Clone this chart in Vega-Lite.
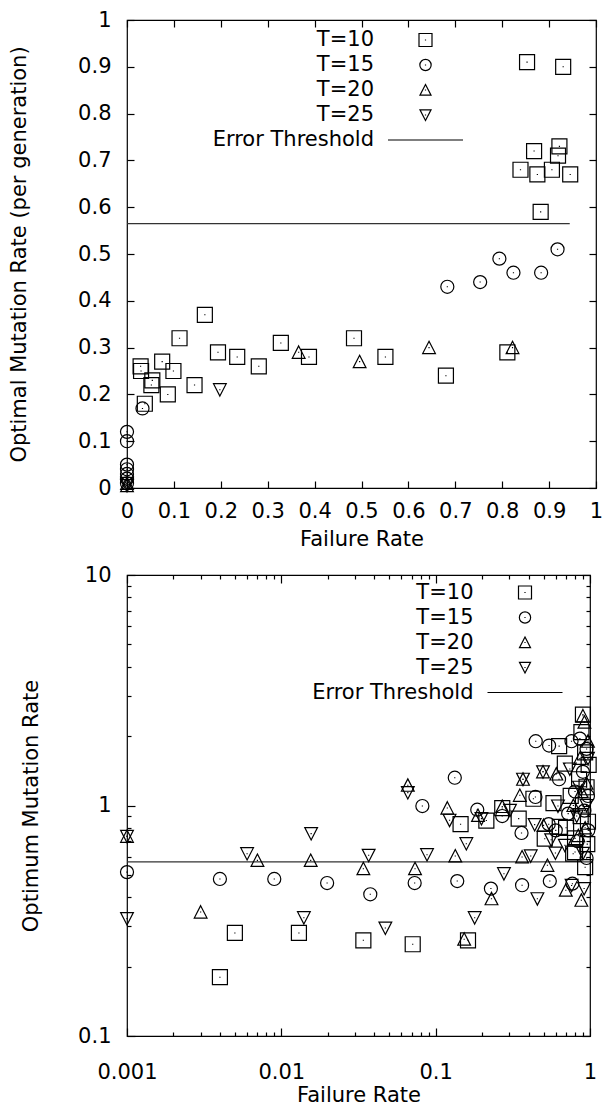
{
  "$schema": "https://vega.github.io/schema/vega-lite/v6.json",
  "background": "white",
  "padding": {"left": 8, "top": 8, "right": 10, "bottom": 0},
  "bounds": "flush",
  "spacing": 87,
  "config": {
    "view": {"stroke": "black", "strokeWidth": 1.2},
    "font": "DejaVu Sans",
    "axis": {
      "domain": false, "grid": false,
      "labelFont": "DejaVu Sans", "labelFontSize": 21, "labelColor": "black",
      "titleFont": "DejaVu Sans", "titleFontSize": 21, "titleFontWeight": "normal", "titleColor": "black",
      "tickColor": "black", "tickWidth": 1.2, "labelFlush": false, "labelOverlap": false
    },
    "legend": {
      "orient": "none", "title": null, "padding": 0,
      "labelFont": "DejaVu Sans", "labelFontSize": 21, "labelColor": "black", "labelLimit": 0,
      "labelAlign": "right", "labelOffset": -62,
      "symbolSize": 169, "symbolStrokeWidth": 1.2, "symbolStrokeColor": "black", "symbolFillColor": "transparent",
      "rowPadding": 3
    }
  },
  "resolve": {"scale": {"shape": "independent"}, "legend": {"shape": "independent"}},
  "datasets": {
    "top": [
      {"series": "T=10", "x": 0.853, "y": 0.91}, {"series": "T=10", "x": 0.93, "y": 0.90},
      {"series": "T=10", "x": 0.868, "y": 0.72}, {"series": "T=10", "x": 0.922, "y": 0.73},
      {"series": "T=10", "x": 0.919, "y": 0.71}, {"series": "T=10", "x": 0.839, "y": 0.68},
      {"series": "T=10", "x": 0.875, "y": 0.67}, {"series": "T=10", "x": 0.906, "y": 0.68},
      {"series": "T=10", "x": 0.945, "y": 0.67}, {"series": "T=10", "x": 0.882, "y": 0.59},
      {"series": "T=10", "x": 0.166, "y": 0.37}, {"series": "T=10", "x": 0.112, "y": 0.32},
      {"series": "T=10", "x": 0.328, "y": 0.31}, {"series": "T=10", "x": 0.484, "y": 0.32},
      {"series": "T=10", "x": 0.388, "y": 0.28}, {"series": "T=10", "x": 0.551, "y": 0.28},
      {"series": "T=10", "x": 0.680, "y": 0.24}, {"series": "T=10", "x": 0.811, "y": 0.29},
      {"series": "T=10", "x": 0.194, "y": 0.29}, {"series": "T=10", "x": 0.235, "y": 0.28},
      {"series": "T=10", "x": 0.281, "y": 0.26}, {"series": "T=10", "x": 0.144, "y": 0.22},
      {"series": "T=10", "x": 0.087, "y": 0.20}, {"series": "T=10", "x": 0.075, "y": 0.27},
      {"series": "T=10", "x": 0.099, "y": 0.25}, {"series": "T=10", "x": 0.029, "y": 0.26},
      {"series": "T=10", "x": 0.030, "y": 0.25}, {"series": "T=10", "x": 0.054, "y": 0.23},
      {"series": "T=10", "x": 0.052, "y": 0.22}, {"series": "T=10", "x": 0.038, "y": 0.18},
      {"series": "T=15", "x": 0.683, "y": 0.43}, {"series": "T=15", "x": 0.753, "y": 0.44},
      {"series": "T=15", "x": 0.794, "y": 0.49}, {"series": "T=15", "x": 0.824, "y": 0.46},
      {"series": "T=15", "x": 0.883, "y": 0.46}, {"series": "T=15", "x": 0.918, "y": 0.51},
      {"series": "T=15", "x": 0.033, "y": 0.17}, {"series": "T=15", "x": 0, "y": 0.12},
      {"series": "T=15", "x": 0, "y": 0.10}, {"series": "T=15", "x": 0, "y": 0.05},
      {"series": "T=15", "x": 0, "y": 0.04}, {"series": "T=15", "x": 0, "y": 0.03},
      {"series": "T=15", "x": 0, "y": 0.02}, {"series": "T=15", "x": 0, "y": 0.01},
      {"series": "T=20", "x": 0.366, "y": 0.29}, {"series": "T=20", "x": 0.496, "y": 0.27},
      {"series": "T=20", "x": 0.644, "y": 0.30}, {"series": "T=20", "x": 0.822, "y": 0.30},
      {"series": "T=20", "x": 0, "y": 0.01}, {"series": "T=20", "x": 0, "y": 0.005},
      {"series": "T=25", "x": 0.198, "y": 0.21}, {"series": "T=25", "x": 0, "y": 0.01},
      {"series": "T=25", "x": 0, "y": 0.005}
    ],
    "bottom": [
      {"series": "T=10", "x": 0.004, "y": 0.18}, {"series": "T=10", "x": 0.005, "y": 0.28},
      {"series": "T=10", "x": 0.013, "y": 0.28}, {"series": "T=10", "x": 0.034, "y": 0.26},
      {"series": "T=10", "x": 0.071, "y": 0.25}, {"series": "T=10", "x": 0.162, "y": 0.26},
      {"series": "T=10", "x": 0.145, "y": 0.83}, {"series": "T=10", "x": 0.213, "y": 0.86},
      {"series": "T=10", "x": 0.27, "y": 0.975}, {"series": "T=10", "x": 0.345, "y": 0.877},
      {"series": "T=10", "x": 0.43, "y": 1.07}, {"series": "T=10", "x": 0.631, "y": 1.81},
      {"series": "T=10", "x": 0.58, "y": 1.025}, {"series": "T=10", "x": 0.509, "y": 0.718},
      {"series": "T=10", "x": 0.637, "y": 0.807}, {"series": "T=10", "x": 0.70, "y": 0.80},
      {"series": "T=10", "x": 0.80, "y": 0.628}, {"series": "T=10", "x": 0.80, "y": 0.72},
      {"series": "T=10", "x": 0.93, "y": 0.54}, {"series": "T=10", "x": 0.778, "y": 0.618},
      {"series": "T=10", "x": 0.687, "y": 1.52}, {"series": "T=10", "x": 0.90, "y": 2.48},
      {"series": "T=10", "x": 0.88, "y": 2.08}, {"series": "T=10", "x": 0.93, "y": 1.7},
      {"series": "T=10", "x": 0.85, "y": 1.3}, {"series": "T=10", "x": 0.95, "y": 1.2},
      {"series": "T=10", "x": 0.9, "y": 1.0}, {"series": "T=10", "x": 0.97, "y": 0.85},
      {"series": "T=10", "x": 0.75, "y": 1.1}, {"series": "T=10", "x": 0.98, "y": 1.5},
      {"series": "T=10", "x": 0.87, "y": 0.9}, {"series": "T=10", "x": 0.96, "y": 0.68},
      {"series": "T=15", "x": 0.001, "y": 0.514}, {"series": "T=15", "x": 0.004, "y": 0.48},
      {"series": "T=15", "x": 0.009, "y": 0.48}, {"series": "T=15", "x": 0.0198, "y": 0.461},
      {"series": "T=15", "x": 0.0377, "y": 0.412}, {"series": "T=15", "x": 0.0731, "y": 0.461},
      {"series": "T=15", "x": 0.138, "y": 0.47}, {"series": "T=15", "x": 0.228, "y": 0.436},
      {"series": "T=15", "x": 0.363, "y": 0.451}, {"series": "T=15", "x": 0.549, "y": 0.47},
      {"series": "T=15", "x": 0.769, "y": 0.458}, {"series": "T=15", "x": 0.95, "y": 0.592},
      {"series": "T=15", "x": 0.082, "y": 0.995}, {"series": "T=15", "x": 0.133, "y": 1.32},
      {"series": "T=15", "x": 0.186, "y": 0.959}, {"series": "T=15", "x": 0.27, "y": 0.90},
      {"series": "T=15", "x": 0.36, "y": 0.76}, {"series": "T=15", "x": 0.443, "y": 1.089},
      {"series": "T=15", "x": 0.445, "y": 1.9}, {"series": "T=15", "x": 0.543, "y": 1.82},
      {"series": "T=15", "x": 0.759, "y": 1.90}, {"series": "T=15", "x": 0.86, "y": 1.95},
      {"series": "T=15", "x": 0.95, "y": 1.76}, {"series": "T=15", "x": 0.63, "y": 1.30},
      {"series": "T=15", "x": 0.54, "y": 0.83}, {"series": "T=15", "x": 0.722, "y": 0.922},
      {"series": "T=15", "x": 0.83, "y": 0.70}, {"series": "T=15", "x": 0.975, "y": 0.78},
      {"series": "T=15", "x": 0.6, "y": 0.78}, {"series": "T=15", "x": 0.9, "y": 1.4},
      {"series": "T=15", "x": 0.97, "y": 1.1}, {"series": "T=15", "x": 0.8, "y": 1.15},
      {"series": "T=15", "x": 0.92, "y": 0.95},
      {"series": "T=20", "x": 0.001, "y": 0.735}, {"series": "T=20", "x": 0.003, "y": 0.345},
      {"series": "T=20", "x": 0.007, "y": 0.578}, {"series": "T=20", "x": 0.0155, "y": 0.578},
      {"series": "T=20", "x": 0.034, "y": 0.532}, {"series": "T=20", "x": 0.0735, "y": 0.532},
      {"series": "T=20", "x": 0.134, "y": 0.604}, {"series": "T=20", "x": 0.363, "y": 0.598},
      {"series": "T=20", "x": 0.153, "y": 0.263}, {"series": "T=20", "x": 0.23, "y": 0.394},
      {"series": "T=20", "x": 0.53, "y": 0.55}, {"series": "T=20", "x": 0.697, "y": 0.429},
      {"series": "T=20", "x": 0.879, "y": 0.388}, {"series": "T=20", "x": 0.066, "y": 1.224},
      {"series": "T=20", "x": 0.119, "y": 0.975}, {"series": "T=20", "x": 0.188, "y": 0.906},
      {"series": "T=20", "x": 0.27, "y": 0.99}, {"series": "T=20", "x": 0.351, "y": 1.107},
      {"series": "T=20", "x": 0.368, "y": 1.30}, {"series": "T=20", "x": 0.496, "y": 1.40},
      {"series": "T=20", "x": 0.605, "y": 1.37}, {"series": "T=20", "x": 0.50, "y": 0.82},
      {"series": "T=20", "x": 0.84, "y": 0.74}, {"series": "T=20", "x": 0.90, "y": 2.45},
      {"series": "T=20", "x": 0.92, "y": 2.30}, {"series": "T=20", "x": 0.86, "y": 1.6},
      {"series": "T=20", "x": 0.95, "y": 1.25}, {"series": "T=20", "x": 0.78, "y": 1.0},
      {"series": "T=20", "x": 0.93, "y": 0.8}, {"series": "T=20", "x": 0.97, "y": 1.9},
      {"series": "T=20", "x": 0.88, "y": 1.15},
      {"series": "T=25", "x": 0.001, "y": 0.735}, {"series": "T=25", "x": 0.001, "y": 0.323},
      {"series": "T=25", "x": 0.006, "y": 0.618}, {"series": "T=25", "x": 0.014, "y": 0.326},
      {"series": "T=25", "x": 0.0156, "y": 0.755}, {"series": "T=25", "x": 0.0368, "y": 0.608},
      {"series": "T=25", "x": 0.0472, "y": 0.294}, {"series": "T=25", "x": 0.0879, "y": 0.612},
      {"series": "T=25", "x": 0.179, "y": 0.326}, {"series": "T=25", "x": 0.158, "y": 0.683},
      {"series": "T=25", "x": 0.277, "y": 0.506}, {"series": "T=25", "x": 0.413, "y": 0.604},
      {"series": "T=25", "x": 0.597, "y": 0.622}, {"series": "T=25", "x": 0.456, "y": 0.394},
      {"series": "T=25", "x": 0.76, "y": 0.45}, {"series": "T=25", "x": 0.916, "y": 0.436},
      {"series": "T=25", "x": 0.066, "y": 1.137}, {"series": "T=25", "x": 0.123, "y": 0.863},
      {"series": "T=25", "x": 0.198, "y": 0.877}, {"series": "T=25", "x": 0.303, "y": 0.953},
      {"series": "T=25", "x": 0.368, "y": 1.30}, {"series": "T=25", "x": 0.496, "y": 1.40},
      {"series": "T=25", "x": 0.62, "y": 0.995}, {"series": "T=25", "x": 0.438, "y": 0.826},
      {"series": "T=25", "x": 0.56, "y": 0.71}, {"series": "T=25", "x": 0.74, "y": 1.44},
      {"series": "T=25", "x": 0.687, "y": 0.672}, {"series": "T=25", "x": 0.85, "y": 1.2},
      {"series": "T=25", "x": 0.95, "y": 1.0}, {"series": "T=25", "x": 0.9, "y": 0.62},
      {"series": "T=25", "x": 0.97, "y": 1.6}, {"series": "T=25", "x": 0.82, "y": 0.9}
    ],
    "thrTop": [{"x0": 0, "x1": 0.944, "thr": 0.565}],
    "thrBottom": [{"thr": 0.569}]
  },
  "vconcat": [
    {
      "width": 469, "height": 468,
      "resolve": {"axis": {"x": "independent", "y": "independent"}},
      "layer": [
        {
          "data": {"name": "thrTop"},
          "mark": {"type": "rule", "color": "#333333", "strokeWidth": 1.3},
          "encoding": {
            "x": {"field": "x0", "type": "quantitative", "scale": {"domain": [0, 1], "nice": false, "zero": false}, "axis": null},
            "x2": {"field": "x1"},
            "y": {"field": "thr", "type": "quantitative", "scale": {"domain": [0, 1], "nice": false, "zero": false}, "axis": null}
          }
        },
        {
          "data": {"name": "top"},
          "mark": {"type": "point", "filled": false, "color": "black", "strokeWidth": 1.2, "size": 225, "opacity": 1},
          "encoding": {
            "x": {"field": "x", "type": "quantitative", "scale": {"domain": [0, 1], "nice": false, "zero": false},
              "axis": {"orient": "bottom", "values": [0, 0.1, 0.2, 0.3, 0.4, 0.5, 0.6, 0.7, 0.8, 0.9, 1], "format": ".1~f", "tickSize": -7, "labelPadding": 19, "title": "Failure Rate", "titlePadding": 7}},
            "y": {"field": "y", "type": "quantitative", "scale": {"domain": [0, 1], "nice": false, "zero": false},
              "axis": {"orient": "left", "values": [0, 0.1, 0.2, 0.3, 0.4, 0.5, 0.6, 0.7, 0.8, 0.9, 1], "format": ".1~f", "tickSize": -7, "labelPadding": 23, "title": "Optimal Mutation Rate (per generation)", "titlePadding": 48}},
            "shape": {"field": "series", "type": "nominal",
              "scale": {"domain": ["T=10", "T=15", "T=20", "T=25", "Error Threshold"],
                "range": ["M-1,-1H1V1H-1Z M0,-0.07V0.07", "M0.87,0A0.87,0.87,0,1,1,-0.87,0A0.87,0.87,0,1,1,0.87,0Z M0,-0.07V0.07", "M0,-0.85L0.85,0.8H-0.85Z M0,-0.07V0.07", "M0,0.85L0.85,-0.8H-0.85Z M0,-0.07V0.07", "M-5.77,0H5.77"]},
              "legend": {"orient": "none", "legendX": 288, "legendY": 9.5}}
          }
        },
        {
          "data": {"name": "top"},
          "mark": {"type": "point", "opacity": 0},
          "encoding": {
            "x": {"field": "x", "type": "quantitative", "axis": {"orient": "top", "values": [0, 0.1, 0.2, 0.3, 0.4, 0.5, 0.6, 0.7, 0.8, 0.9, 1], "labels": false, "tickSize": -7, "title": null}},
            "y": {"field": "y", "type": "quantitative", "axis": {"orient": "right", "values": [0, 0.1, 0.2, 0.3, 0.4, 0.5, 0.6, 0.7, 0.8, 0.9, 1], "labels": false, "tickSize": -7, "title": null}}
          }
        }
      ]
    },
    {
      "width": 463, "height": 461,
      "resolve": {"axis": {"x": "independent", "y": "independent"}},
      "layer": [
        {
          "data": {"name": "thrBottom"},
          "mark": {"type": "rule", "color": "#333333", "strokeWidth": 1.3},
          "encoding": {
            "y": {"field": "thr", "type": "quantitative", "scale": {"type": "log", "domain": [0.1, 10], "nice": false}, "axis": null}
          }
        },
        {
          "data": {"name": "bottom"},
          "mark": {"type": "point", "filled": false, "color": "black", "strokeWidth": 1.2, "size": 225, "opacity": 1},
          "encoding": {
            "x": {"field": "x", "type": "quantitative", "scale": {"type": "log", "domain": [0.001, 1], "nice": false},
              "axis": {"orient": "bottom", "values": [0.001, 0.01, 0.1, 1], "format": "~g", "tickSize": -8, "labelPadding": 33, "title": "Failure Rate", "titlePadding": 2}},
            "y": {"field": "y", "type": "quantitative", "scale": {"type": "log", "domain": [0.1, 10], "nice": false},
              "axis": {"orient": "left", "values": [0.1, 1, 10], "format": "~g", "tickSize": -8, "labelPadding": 24, "title": "Optimum Mutation Rate", "titlePadding": 36}},
            "shape": {"field": "series", "type": "nominal",
              "scale": {"domain": ["T=10", "T=15", "T=20", "T=25", "Error Threshold"],
                "range": ["M-1,-1H1V1H-1Z M0,-0.07V0.07", "M0.87,0A0.87,0.87,0,1,1,-0.87,0A0.87,0.87,0,1,1,0.87,0Z M0,-0.07V0.07", "M0,-0.85L0.85,0.8H-0.85Z M0,-0.07V0.07", "M0,0.85L0.85,-0.8H-0.85Z M0,-0.07V0.07", "M-5.77,0H5.77"]},
              "legend": {"orient": "none", "legendX": 387.5, "legendY": 7}}
          }
        },
        {
          "data": {"name": "bottom"},
          "mark": {"type": "point", "opacity": 0},
          "encoding": {
            "x": {"field": "x", "type": "quantitative", "axis": {"orient": "top", "values": [0.001, 0.01, 0.1, 1], "labels": false, "tickSize": -8, "title": null}},
            "y": {"field": "y", "type": "quantitative", "axis": {"orient": "right", "values": [0.1, 1, 10], "labels": false, "tickSize": -8, "title": null}}
          }
        },
        {
          "data": {"name": "bottom"},
          "mark": {"type": "point", "opacity": 0},
          "encoding": {
            "x": {"field": "x", "type": "quantitative", "axis": {"orient": "bottom", "values": [0.002, 0.003, 0.004, 0.005, 0.006, 0.007, 0.008, 0.009, 0.02, 0.03, 0.04, 0.05, 0.06, 0.07, 0.08, 0.09, 0.2, 0.3, 0.4, 0.5, 0.6, 0.7, 0.8, 0.9], "labels": false, "tickSize": -4, "title": null}},
            "y": {"field": "y", "type": "quantitative", "axis": {"orient": "left", "values": [0.2, 0.3, 0.4, 0.5, 0.6, 0.7, 0.8, 0.9, 2, 3, 4, 5, 6, 7, 8, 9], "labels": false, "tickSize": -4, "title": null}}
          }
        },
        {
          "data": {"name": "bottom"},
          "mark": {"type": "point", "opacity": 0},
          "encoding": {
            "x": {"field": "x", "type": "quantitative", "axis": {"orient": "top", "values": [0.002, 0.003, 0.004, 0.005, 0.006, 0.007, 0.008, 0.009, 0.02, 0.03, 0.04, 0.05, 0.06, 0.07, 0.08, 0.09, 0.2, 0.3, 0.4, 0.5, 0.6, 0.7, 0.8, 0.9], "labels": false, "tickSize": -4, "title": null}},
            "y": {"field": "y", "type": "quantitative", "axis": {"orient": "right", "values": [0.2, 0.3, 0.4, 0.5, 0.6, 0.7, 0.8, 0.9, 2, 3, 4, 5, 6, 7, 8, 9], "labels": false, "tickSize": -4, "title": null}}
          }
        }
      ]
    }
  ]
}
